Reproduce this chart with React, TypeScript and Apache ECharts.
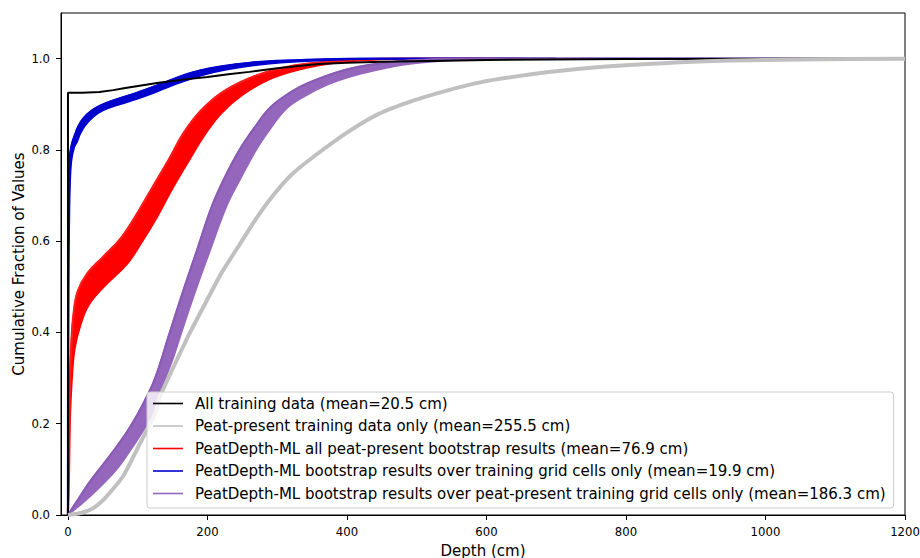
import React, { useEffect, useRef } from "react";
import * as echarts from "echarts";

const FONT = "DejaVu Sans";

const xTicks = [0, 200, 400, 600, 800, 1000, 1200];
const yTicks = [0, 0.2, 0.4, 0.6, 0.8, 1.0];

const names = [
  "All training data (mean=20.5 cm)",
  "Peat-present training data only (mean=255.5 cm)",
  "PeatDepth-ML all peat-present bootstrap results (mean=76.9 cm)",
  "PeatDepth-ML bootstrap results over training grid cells only (mean=19.9 cm)",
  "PeatDepth-ML bootstrap results over peat-present training grid cells only (mean=186.3 cm)",
];

const allTraining = [
  [0, 0], [0, 0.925], [20, 0.925], [45, 0.927], [65, 0.931], [80, 0.935], [105, 0.941],
  [130, 0.947], [165, 0.954], [200, 0.96], [230, 0.966], [260, 0.971], [300, 0.979],
  [330, 0.984], [360, 0.988], [400, 0.991], [450, 0.993], [520, 0.995], [600, 0.997],
  [800, 0.999], [1200, 1.0],
];

const peatTraining = [
  [0, 0], [20, 0.005], [36, 0.015], [45, 0.025], [55, 0.04], [79, 0.085], [101, 0.15],
  [125, 0.223], [132, 0.26], [150, 0.32], [175, 0.4], [199, 0.47], [220, 0.53], [247, 0.595],
  [270, 0.65], [294, 0.7], [320, 0.745], [352, 0.785], [400, 0.838], [447, 0.88], [495, 0.908],
  [543, 0.93], [591, 0.948], [638, 0.96], [686, 0.97], [734, 0.978], [782, 0.984], [830, 0.988],
  [877, 0.992], [950, 0.996], [1050, 0.998], [1200, 1.0],
];

const redUpper = [
  [0, 0], [1, 0.1], [2, 0.2], [3, 0.3], [5, 0.38], [8, 0.44], [14, 0.49], [28, 0.53], [50, 0.565],
  [75, 0.605], [95, 0.65], [120, 0.715], [145, 0.78], [165, 0.835], [190, 0.885], [220, 0.925],
  [260, 0.957], [300, 0.977], [350, 0.99], [420, 0.998], [500, 1.0], [650, 1.0],
];
const redLower = [
  [0, 0], [2, 0.1], [3, 0.2], [6, 0.3], [10, 0.365], [18, 0.415], [30, 0.46], [55, 0.505],
  [85, 0.55], [105, 0.595], [125, 0.645], [150, 0.715], [175, 0.78], [195, 0.83], [220, 0.88],
  [250, 0.92], [290, 0.955], [330, 0.975], [380, 0.99], [450, 0.998], [550, 1.0], [650, 1.0],
];

const blueUpper = [
  [0, 0], [0.3, 0.5], [0.7, 0.66], [1.5, 0.74], [3, 0.79], [6, 0.815], [10, 0.833], [15, 0.852],
  [22, 0.869], [33, 0.885], [46, 0.897], [70, 0.911], [93, 0.922], [117, 0.935], [141, 0.949],
  [165, 0.963], [189, 0.974], [220, 0.983], [261, 0.991], [300, 0.995], [357, 0.998], [430, 1.0],
  [700, 1.0],
];
const blueLower = [
  [0, 0], [1, 0.5], [2, 0.64], [3, 0.72], [5, 0.775], [9, 0.805], [13, 0.817], [18, 0.836],
  [25, 0.854], [36, 0.872], [50, 0.886], [75, 0.9], [98, 0.911], [122, 0.924], [146, 0.939],
  [170, 0.952], [194, 0.964], [225, 0.975], [266, 0.985], [305, 0.991], [365, 0.996], [440, 0.999],
  [520, 1.0], [700, 1.0],
];

const purpleUpper = [
  [0, 0], [15, 0.035], [30, 0.07], [50, 0.11], [70, 0.15], [90, 0.195], [110, 0.25], [125, 0.3],
  [146, 0.4], [165, 0.49], [185, 0.58], [206, 0.675], [225, 0.74], [246, 0.8], [268, 0.85],
  [290, 0.893], [315, 0.922], [342, 0.945], [394, 0.974], [440, 0.988], [500, 0.997], [560, 1.0],
  [1120, 1.0],
];
const purpleLower = [
  [0, 0], [20, 0.025], [45, 0.06], [70, 0.1], [91, 0.145], [110, 0.19], [128, 0.24], [139, 0.296],
  [150, 0.34], [165, 0.41], [185, 0.5], [204, 0.58], [227, 0.675], [245, 0.73], [270, 0.8],
  [292, 0.85], [313, 0.89], [340, 0.918], [371, 0.942], [400, 0.958], [440, 0.974], [490, 0.988],
  [560, 0.997], [650, 1.0], [1120, 1.0],
];

function band(
  name: string,
  color: string,
  edge: string,
  upper: number[][],
  lower: number[][],
  edgeWidth: number
) {
  return {
    type: "custom",
    name,
    silent: true,
    itemStyle: { color },
    data: [[0, 0]],
    renderItem: (_params: any, api: any) => {
      const up = upper.map((p) => api.coord(p));
      const lo = lower.slice().reverse().map((p) => api.coord(p));
      return {
        type: "group",
        children: [
          {
            type: "polygon",
            shape: { points: up.concat(lo), smooth: 0.4 },
            style: { fill: color, stroke: color, lineWidth: 1.5, lineJoin: "round" },
          },
          {
            type: "polyline",
            shape: { points: up, smooth: 0.4 },
            style: { fill: null, stroke: edge, lineWidth: edgeWidth, lineJoin: "round" },
          },
        ],
      };
    },
  };
}

function line(name: string, color: string, data: number[][], width: number, smooth: number) {
  return {
    type: "line",
    name,
    data,
    showSymbol: false,
    symbol: "none",
    silent: true,
    smooth,
    itemStyle: { color },
    lineStyle: { color, width },
  };
}

export default function App() {
  const ref = useRef<HTMLDivElement>(null);
  useEffect(() => {
    const chart = echarts.init(ref.current as HTMLDivElement, null, { renderer: "svg" });
    chart.setOption({
      animation: false,
      grid: {
        left: 61,
        right: 15,
        top: 13,
        bottom: 43,
        outerBoundsMode: "none",
        containLabel: false,
        show: true,
        borderColor: "#000",
        borderWidth: 1,
        backgroundColor: "transparent",
      },
      xAxis: {
        type: "value",
        min: -10,
        max: 1200,
        name: "Depth (cm)",
        nameLocation: "middle",
        nameGap: 28,
        nameMoveOverlap: false,
        nameTextStyle: { fontFamily: FONT, fontSize: 15, color: "#000" },
        axisLine: { show: true, onZero: false, lineStyle: { color: "#000", width: 1 } },
        axisTick: { show: true, length: 5, customValues: xTicks, lineStyle: { color: "#000" } },
        axisLabel: {
          customValues: xTicks,
          fontFamily: FONT,
          fontSize: 11.7,
          color: "#000",
          margin: 11,
          formatter: (v: number) => String(v),
        },
        splitLine: { show: false },
      },
      yAxis: {
        type: "value",
        min: 0,
        max: 1.1,
        name: "Cumulative Fraction of Values",
        nameLocation: "middle",
        nameGap: 35,
        nameMoveOverlap: false,
        nameTextStyle: { fontFamily: FONT, fontSize: 15, color: "#000" },
        axisLine: { show: true, onZero: false, lineStyle: { color: "#000", width: 1 } },
        axisTick: { show: true, length: 5, customValues: yTicks, lineStyle: { color: "#000" } },
        axisLabel: {
          customValues: yTicks,
          fontFamily: FONT,
          fontSize: 11.7,
          color: "#000",
          margin: 11,
          formatter: (v: number) => v.toFixed(1),
        },
        splitLine: { show: false },
      },
      legend: {
        orient: "vertical",
        left: 147,
        top: 392,
        padding: [4, 8, 7, 6],
        itemWidth: 30,
        itemHeight: 1.6,
        itemGap: 7.5,
        icon: "rect",
        selectedMode: false,
        backgroundColor: "rgba(255,255,255,0.8)",
        borderColor: "#cccccc",
        borderWidth: 1,
        borderRadius: 3,
        textStyle: { fontFamily: FONT, fontSize: 15, color: "#000", padding: [0, 0, 0, 7] },
        data: names,
      },
      series: [
        line(names[0], "#000000", allTraining, 2, 0),
        line(names[1], "#c0c0c0", peatTraining, 4, 0.2),
        band(names[2], "#ff0000", "#ff1a1a", redUpper, redLower, 2.2),
        band(names[3], "#0000cd", "#0000cd", blueUpper, blueLower, 2.2),
        band(names[4], "#9467bd", "#8a5bb5", purpleUpper, purpleLower, 2.2),
      ],
    });
    return () => chart.dispose();
  }, []);
  return (
    <div
      ref={ref}
      style={{ position: "fixed", left: 0, top: 0, width: 920, height: 558, background: "#fff" }}
    />
  );
}
